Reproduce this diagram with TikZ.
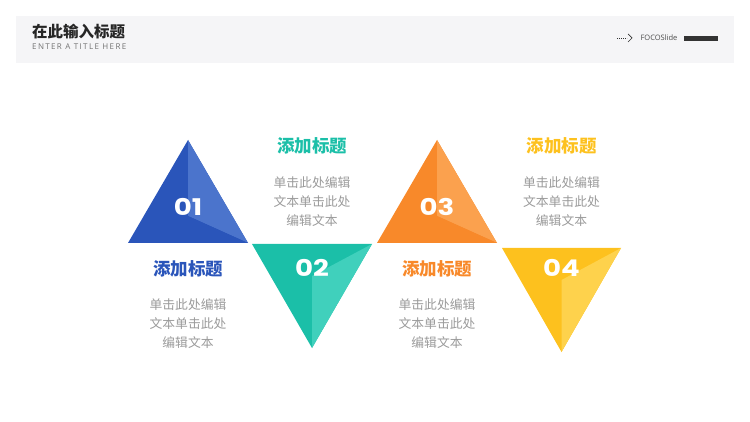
\documentclass[tikz,border=0pt]{standalone}
\usepackage{fontspec}
\setmainfont{Open Sans}
\newfontfamily\cjk{Noto Sans CJK SC}
\newfontfamily\numfont{Poppins}[FakeStretch=1.2]
\usetikzlibrary{positioning}
\definecolor{headgray}{HTML}{F5F5F7}
\definecolor{bodygray}{HTML}{9A9A9A}
\definecolor{tblue}{HTML}{2A55BA}
\definecolor{tbluelight}{HTML}{4B74CC}
\definecolor{tteal}{HTML}{1BBFA8}
\definecolor{ttreallight}{HTML}{40D0BC}
\definecolor{torange}{HTML}{F8892A}
\definecolor{torangelight}{HTML}{FBA14E}
\definecolor{tyellow}{HTML}{FDC11E}
\definecolor{tyellowlight}{HTML}{FED24C}
\tikzset{
x=1pt, y=-1pt, % one unit is one pixel of the slide, y runs downwards
heading/.style={font=\cjk\bfseries\fontsize{17.5}{17.5}\selectfont, inner sep=0pt}, % coloured titles
body/.style={font=\cjk\fontsize{12.8}{19}\selectfont, text=bodygray, align=center, inner sep=0pt}, % grey text blocks
number/.style={font=\numfont\bfseries\fontsize{23}{23}\selectfont, text=white, inner sep=0pt}, % white numbers
}

\begin{document}
\begin{tikzpicture}
            \useasboundingbox (0,0) rectangle (750,422);
            % header band
            \fill[headgray] (16,16) rectangle (734,63);
            \node[font=\cjk\bfseries\fontsize{15.5}{15.5}\selectfont, text=black!85, anchor=west, inner sep=0pt] (title) at (32,32) {在此输入标题};
            \node[font=\fontsize{8}{8}\selectfont\addfontfeatures{LetterSpace=17}, text=black!55, anchor=west, inner sep=0pt] (subtitle) at (32,46.5) {ENTER A TITLE HERE};
            \node[font=\fontsize{7.5}{7.5}\selectfont, text=black!70, inner sep=0pt] (brand) at (659,38) {FOCOSlide};
            \fill[black!80] (684,36) rectangle (718,41);
            \coordinate (dotstart) at (617,38);
            \coordinate (dotend) at (627,38);
            \draw[black!80, line width=0.6pt, dash pattern=on 0.8pt off 1.2pt] (dotstart) -- (dotend);
            \draw[black!80, line width=0.7pt] (628,34) -- (632,38) -- (628,42);
            % triangle 01
            \fill[tblue] (188,140) -- (248,243) -- (128,243) -- cycle;
            \fill[tbluelight] (188,140) -- (188,216) -- (248,243) -- cycle;
            \fill[tblue] (188,216) -- (248,243) -- (128,243) -- cycle;
            % triangle 02
            \fill[tteal] (252,244) -- (372,244) -- (312,348) -- cycle;
            \fill[ttreallight] (372,244) -- (312,276) -- (312,348) -- cycle;
            % triangle 03
            \fill[torange] (437,140) -- (497,243) -- (377,243) -- cycle;
            \fill[torangelight] (437,140) -- (437,216) -- (497,243) -- cycle;
            \fill[torange] (437,216) -- (497,243) -- (377,243) -- cycle;
            % triangle 04
            \fill[tyellow] (502,248) -- (621,248) -- (561.5,352) -- cycle;
            \fill[tyellowlight] (621,248) -- (561.5,280) -- (561.5,352) -- cycle;
            % numbers
            \node[number] (n1) at (188,207) {01};
            \node[number] (n2) at (312,268) {02};
            \node[number] (n3) at (437,207) {03};
            \node[number] (n4) at (561.5,268) {04};
            % titles and texts
            \node[heading, text=tteal] (h2) at (312,146) {添加标题};
            \node[body] (b2) at (312,202) {单击此处编辑\\文本单击此处\\编辑文本};
            \node[heading, text=tyellow] (h4) at (561.5,146) {添加标题};
            \node[body] (b4) at (561.5,202) {单击此处编辑\\文本单击此处\\编辑文本};
            \node[heading, text=tblue] (h1) at (188,269) {添加标题};
            \node[body] (b1) at (188,324) {单击此处编辑\\文本单击此处\\编辑文本};
            \node[heading, text=torange] (h3) at (437,269) {添加标题};
            \node[body] (b3) at (437,324) {单击此处编辑\\文本单击此处\\编辑文本};
            \end{tikzpicture}
\end{document}
